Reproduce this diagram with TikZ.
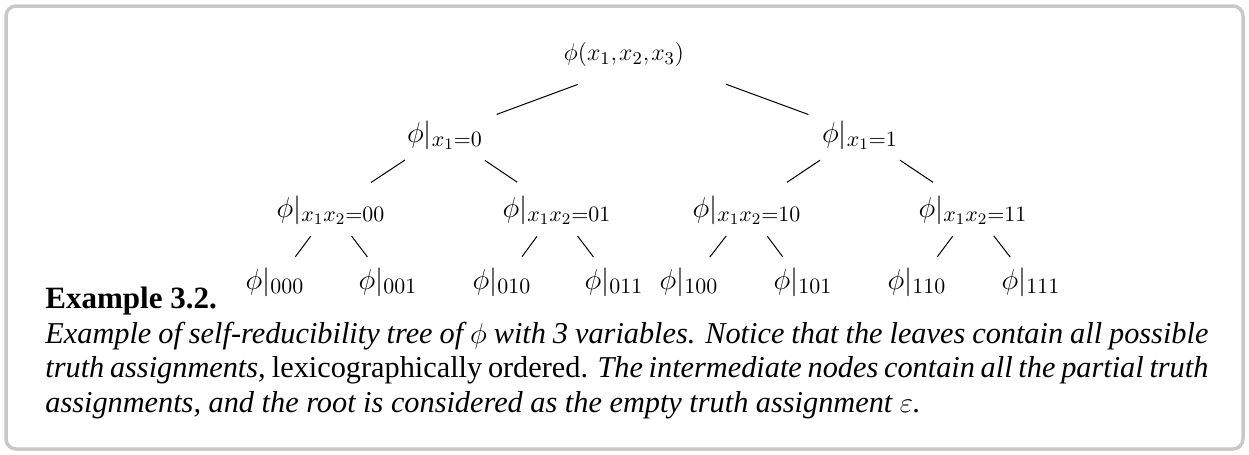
\documentclass[tikz,border=0pt]{standalone}
\usepackage{fontspec}
\setmainfont{Liberation Serif}
\usetikzlibrary{calc}
\tikzset{
  mnode/.style={inner sep=0pt, anchor=base, font=\fontsize{15.75}{18}\selectfont},
  rootnode/.style={inner sep=0pt, anchor=base, font=\fontsize{12.5}{14}\selectfont},
  edge/.style={line width=0.5pt},
  frame/.style={draw={rgb,255:red,200;green,200;blue,200}, line width=1.75pt, rounded corners=5pt},
}
\begin{document}
\begin{tikzpicture}[x=0.5pt,y=-0.5pt]
\useasboundingbox (0,0) rectangle (1249,455);
\draw[frame] (6,6) rectangle (1243,449);
% tree nodes
\node[rootnode] (root) at (624,61) {$\phi(x_1,\mkern-1.5mu x_2,\mkern-1.5mu x_3)$};
\node[mnode] (a0) at (445,142) {$\phi|_{x_1=0}$};
\node[mnode] (a1) at (860,142) {$\phi|_{x_1=1}$};
\node[mnode] (b00) at (331,217) {$\phi|_{x_1x_2=00}$};
\node[mnode] (b01) at (557,217) {$\phi|_{x_1x_2=01}$};
\node[mnode] (b10) at (747,217) {$\phi|_{x_1x_2=10}$};
\node[mnode] (b11) at (973,217) {$\phi|_{x_1x_2=11}$};
\node[mnode] (c000) at (275,289) {$\phi|_{000}$};
\node[mnode] (c001) at (388,289) {$\phi|_{001}$};
\node[mnode] (c010) at (502,289) {$\phi|_{010}$};
\node[mnode] (c011) at (614,289) {$\phi|_{011}$};
\node[mnode] (c100) at (689,289) {$\phi|_{100}$};
\node[mnode] (c101) at (803,289) {$\phi|_{101}$};
\node[mnode] (c110) at (917,289) {$\phi|_{110}$};
\node[mnode] (c111) at (1031,289) {$\phi|_{111}$};
% edges
\foreach \c in {a0,a1}
  \draw[edge, shorten <=39.5pt, shorten >=27.5pt] ($(root.base)+(28,-4)$) -- ($(\c.base)+(0,-8.5)$);
\foreach \p/\c in {a0/b00,a0/b01,a1/b10,a1/b11}
  \draw[edge, shorten <=24pt, shorten >=24pt] ($(\p.base)+(0,-8.5)$) -- ($(\c.base)+(0,-8)$);
\foreach \p/\c in {b00/c000,b00/c001,b01/c010,b01/c011,b10/c100,b10/c101,b11/c110,b11/c111}
  \draw[edge, shorten <=17pt, shorten >=17pt] ($(\p.base)+(0,-8)$) -- ($(\c.base)+(0,-5)$);
% caption
\node[inner sep=0pt, anchor=base west, font=\fontsize{15.5}{17.25}\selectfont\bfseries] (title) at (45,308) {Example 3.2.};
\node[inner sep=0pt, anchor=base west, text width=581.5pt, align=justify,
      font=\fontsize{15.15}{17.25}\selectfont\itshape] (caption) at (45,343)
  {Example of self-reducibility tree of $\phi$ with 3 variables. Notice that the leaves contain all possible\linebreak
   truth assignments, {\upshape lexicographically ordered.} The intermediate nodes contain all the partial truth\linebreak
   assignments, and the root is considered as the empty truth assignment $\varepsilon$.};
\end{tikzpicture}
\end{document}
